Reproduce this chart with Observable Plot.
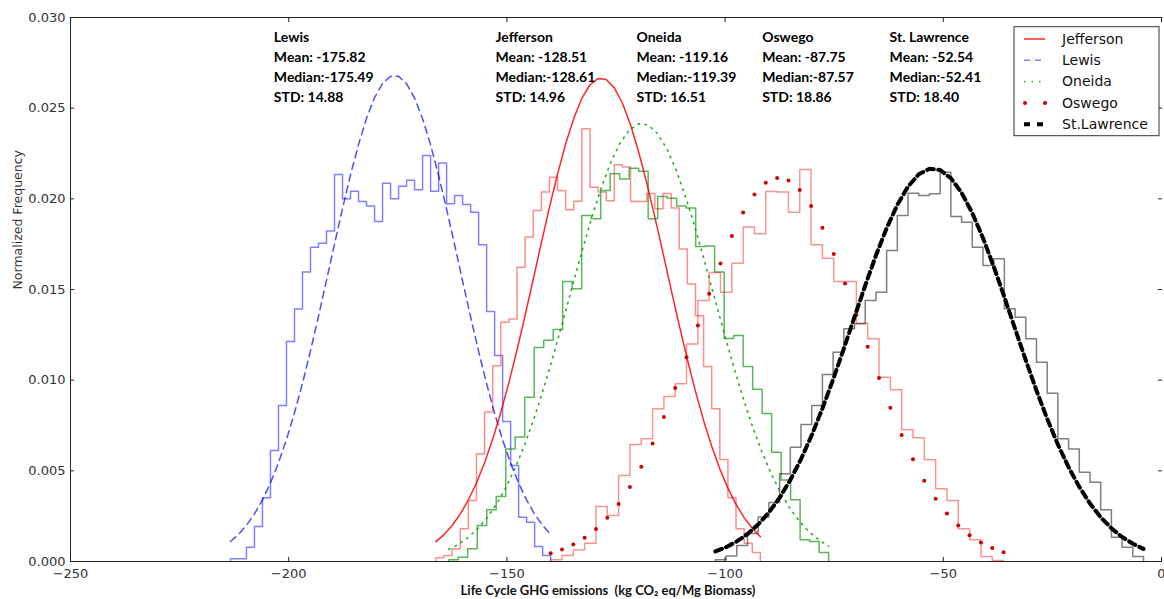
<!DOCTYPE html>
<html><head><meta charset="utf-8">
<script src="https://cdn.jsdelivr.net/npm/d3@7"></script>
<script src="https://cdn.jsdelivr.net/npm/@observablehq/plot@0.6"></script>
<style>
html,body{margin:0;padding:0;background:#fff;}
#chart{width:1164px;height:599px;overflow:hidden;}
</style></head><body><div id="chart"></div>
<script>
// ---------- data ----------
const counties = ["Lewis", "Jefferson", "Oneida", "Oswego", "St. Lawrence"];
const legendNames = ["Jefferson", "Lewis", "Oneida", "Oswego", "St.Lawrence"];
const means = ["-175.82", "-128.51", "-119.16", "-87.75", "-52.54"];
const medians = ["-175.49", "-128.61", "-119.39", "-87.57", "-52.41"];
const stds = ["14.88", "14.96", "16.51", "18.86", "18.40"];
const labelX = [-203.4, -152.6, -120.3, -91.5, -62.3];

const xDomain = [-250, 0];
const yDomain = [0, 0.03];
const xTicks = [-250, -200, -150, -100, -50, 0];
const yTicks = [0, 0.005, 0.010, 0.015, 0.020, 0.025, 0.030];

// histogram ranges (min, max of samples), 40 bins each
const binLo = [-213.35, -166.27, -163.33, -139.97, -102.23];
const binHi = [-139.97, -91.92, -76.28, -36.19, -4.12];

const lewisHist = [0.00015,0.00015,0.00079,0.00193,0.00351,0.00612,0.0086,0.01213,0.01393,0.01596,0.01733,0.01755,0.01822,0.02134,0.02000,0.02042,0.01985,0.01961,0.01875,0.02086,0.02000,0.02070,0.02103,0.02050,0.02239,0.02042,0.02197,0.01973,0.02018,0.01969,0.01926,0.01747,0.01379,0.01136,0.00772,0.00529,0.00244,0.00217,0.00083,0.00033];
const jeffersonHist = [0.0002,0.00033,0.0007,0.0018,0.00336,0.00594,0.00824,0.0108,0.0132,0.01338,0.01623,0.01789,0.01936,0.02037,0.02119,0.02046,0.0194,0.01987,0.02386,0.02064,0.02037,0.0199,0.02188,0.02175,0.01985,0.01985,0.0203,0.01945,0.0203,0.0195,0.01724,0.01531,0.01355,0.01075,0.00842,0.00562,0.00351,0.0018,0.001,0.0005];
const oneidaHist = [0.0001,0.00024,0.0007,0.00199,0.00285,0.00358,0.00621,0.00686,0.00906,0.0118,0.0122,0.0128,0.01544,0.01504,0.01908,0.0189,0.02046,0.02138,0.0211,0.02169,0.02152,0.0189,0.02013,0.02003,0.0196,0.0195,0.01737,0.0174,0.01596,0.0123,0.01246,0.01075,0.0095,0.00816,0.00603,0.0045,0.0034,0.0012,0.0011,0.0005];
const oswegoHist = [0.0001,0.00033,0.00064,0.00101,0.00303,0.00254,0.00474,0.00645,0.00677,0.00842,0.0091,0.0098,0.012,0.01439,0.01594,0.01485,0.01645,0.01844,0.01807,0.0204,0.02037,0.01926,0.02162,0.01747,0.01673,0.01544,0.01544,0.01314,0.01228,0.01016,0.00947,0.00726,0.00682,0.00561,0.00401,0.00336,0.0018,0.0012,0.00028,0.00006];
const stLawrenceHist = [0.0001,0.0003,0.00088,0.00155,0.00246,0.00325,0.00484,0.0063,0.00755,0.0086,0.01031,0.01154,0.01283,0.01311,0.01439,0.01485,0.01715,0.01908,0.02031,0.02018,0.02028,0.02147,0.01903,0.01871,0.01733,0.01632,0.01669,0.01394,0.01347,0.01228,0.01099,0.00928,0.00677,0.00621,0.00492,0.00437,0.00285,0.00134,0.00079,0.00028];

// fitted normal curves, read at the 41 bin edges
const lewisFit = [0.001105,0.001497,0.001997,0.002625,0.003397,0.004332,0.005441,0.006729,0.008197,0.009834,0.011622,0.013526,0.015506,0.017506,0.019468,0.021322,0.023002,0.024439,0.025577,0.026361,0.026762,0.026756,0.026350,0.025559,0.024417,0.022972,0.021290,0.019433,0.017470,0.015468,0.013490,0.011587,0.009803,0.008168,0.006704,0.005419,0.004314,0.003382,0.002612,0.001987,0.001489];
const jeffersonFit = [0.001094,0.001485,0.001986,0.002616,0.003392,0.004331,0.005445,0.006742,0.008220,0.009867,0.011666,0.013579,0.015567,0.017571,0.019530,0.021375,0.023038,0.024448,0.025550,0.026291,0.026641,0.026582,0.026118,0.025270,0.024076,0.022586,0.020864,0.018979,0.017002,0.014995,0.013026,0.011140,0.009382,0.007781,0.006354,0.005109,0.004046,0.003155,0.002422,0.001831,0.001363];
const oneidaFit = [0.000667,0.000941,0.001305,0.001778,0.002382,0.003136,0.004057,0.005159,0.006446,0.007917,0.009555,0.011333,0.013214,0.015140,0.017048,0.018866,0.020519,0.021935,0.023043,0.023790,0.024140,0.024072,0.023593,0.022725,0.021511,0.020015,0.018299,0.016444,0.014523,0.012605,0.010752,0.009015,0.007427,0.006014,0.004785,0.003743,0.002877,0.002173,0.001614,0.001177,0.000844];
const oswegoFit = [0.000453,0.000657,0.000935,0.001306,0.001789,0.002406,0.003175,0.004111,0.005223,0.006510,0.007964,0.009562,0.011264,0.013020,0.014767,0.016436,0.017953,0.019242,0.020236,0.020884,0.021147,0.021014,0.020491,0.019607,0.018410,0.016962,0.015336,0.013606,0.011844,0.010118,0.008481,0.006976,0.005632,0.004460,0.003467,0.002644,0.001979,0.001453,0.001047,0.000741,0.000514];
const stLawrenceFit = [0.000556,0.000791,0.001105,0.001516,0.002042,0.002705,0.003518,0.004496,0.005645,0.006961,0.008434,0.010040,0.011740,0.013486,0.015221,0.016876,0.018380,0.019668,0.020676,0.021353,0.021662,0.021591,0.021142,0.020338,0.019219,0.017842,0.016274,0.014581,0.012835,0.011099,0.009429,0.007870,0.006453,0.005197,0.004113,0.003197,0.002442,0.001832,0.001350,0.000978,0.000696];

// ---------- styles ----------
const histStyle = [
  {stroke: "#0000ff", strokeOpacity: 0.5},
  {stroke: "#ff0000", strokeOpacity: 0.45},
  {stroke: "#009000", strokeOpacity: 0.65},
  {stroke: "#ee0000", strokeOpacity: 0.42},
  {stroke: "#000000", strokeOpacity: 0.5}
];

// ---------- derived tables ----------
const hists = [lewisHist, jeffersonHist, oneidaHist, oswegoHist, stLawrenceHist];
const fits = [lewisFit, jeffersonFit, oneidaFit, oswegoFit, stLawrenceFit];

function stepTable(k) {
  const h = hists[k], lo = binLo[k], hi = binHi[k], n = h.length, w = (hi - lo) / n;
  const pts = [{x: lo, y: 0}];
  h.forEach((v, i) => { pts.push({x: lo + i * w, y: v}); pts.push({x: lo + (i + 1) * w, y: v}); });
  pts.push({x: hi, y: 0});
  return pts;
}
function fitTable(k) {
  const f = fits[k], lo = binLo[k], hi = binHi[k], n = f.length - 1;
  return f.map((v, i) => ({x: lo + i * (hi - lo) / n, y: v}));
}
const annotations = counties.map((c, i) => ({
  x: labelX[i],
  label: `${c}\nMean: ${means[i]}\nMedian:${medians[i]}\nSTD: ${stds[i]}`
}));

const W = 1164, H = 599, mL = 70, mR = 3, mT = 17, mB = 38;
const fmtX = d3.format("d");
const fmtY = d3.format(".3f");

const plot = Plot.plot({
  width: W, height: H,
  marginLeft: mL, marginRight: mR, marginTop: mT, marginBottom: mB,
  style: {background: "white", fontFamily: "DejaVu Sans", overflow: "visible"},
  x: {domain: xDomain},
  y: {domain: yDomain},
  marks: [
    // histograms (step outlines)
    ...hists.map((_, k) => Plot.line(stepTable(k), {x: "x", y: "y", strokeWidth: 1.5, ...histStyle[k]})),
    // fitted curves
    Plot.line(fitTable(0), {x: "x", y: "y", stroke: "#0000ff", strokeOpacity: 0.7, strokeWidth: 1.5, strokeDasharray: "7,5"}),
    Plot.line(fitTable(1), {x: "x", y: "y", stroke: "#ff0000", strokeOpacity: 0.85, strokeWidth: 1.5}),
    Plot.line(fitTable(2), {x: "x", y: "y", stroke: "#00a000", strokeOpacity: 0.85, strokeWidth: 1.6, strokeDasharray: "1.5,5.5"}),
    Plot.dot(fitTable(3), {x: "x", y: "y", r: 2, fill: "#cc0000", stroke: null}),
    Plot.line(fitTable(4), {x: "x", y: "y", stroke: "#000000", strokeWidth: 4, strokeDasharray: "7,4.5"}),
    // spines
    Plot.ruleX([xDomain[0]], {stroke: "#222", strokeWidth: 1}),
    Plot.ruleY(yDomain, {stroke: "#222", strokeWidth: 1}),
    // ticks (inward)
    Plot.axisX(xTicks, {anchor: "bottom", tickSize: -4, tickFormat: () => "", label: null, stroke: "#222"}),
    Plot.axisX(xTicks, {anchor: "top", tickSize: -4, tickFormat: () => "", label: null, stroke: "#222"}),
    Plot.axisY(yTicks, {anchor: "left", tickSize: -4, tickFormat: () => "", label: null, stroke: "#222"}),
    Plot.axisY(yTicks, {anchor: "right", tickSize: -4, tickFormat: () => "", label: null, stroke: "#222"}),
    // tick labels
    Plot.axisX(xTicks, {anchor: "bottom", tickSize: 0, tickPadding: 7, tickFormat: fmtX, label: null, fontSize: 13, fill: "#333"}),
    Plot.axisY(yTicks, {anchor: "left", tickSize: 0, tickPadding: 5, tickFormat: fmtY, label: null, fontSize: 13, fill: "#333"}),
    // axis titles
    Plot.text(["Normalized Frequency"], {text: d => d, frameAnchor: "left", dx: -53, rotate: -90, fontSize: 12.5, fill: "#333", fontFamily: "DejaVu Sans"}),
    Plot.text(["Life Cycle GHG emissions \u00a0(kg CO\u2082 eq/Mg Biomass)"], {text: d => d, frameAnchor: "bottom", dx: -8, dy: 29, lineAnchor: "middle", fontSize: 13, fontWeight: "bold", fill: "#111", fontFamily: "Lato"}),
    // statistics annotations
    Plot.text(annotations, {x: "x", text: "label", frameAnchor: "top", dy: 10, textAnchor: "start", lineAnchor: "top", lineHeight: 1.43, fontSize: 14, fontWeight: "bold", fontFamily: "Lato", fill: "black"})
  ]
});
document.getElementById("chart").appendChild(plot);

// ---------- legend (inside plot, upper right) ----------
const legendStyle = {
  "Jefferson": {type: "line", stroke: "#ff0000", width: 1.5, dash: null, opacity: 0.85},
  "Lewis": {type: "line", stroke: "#0000ff", width: 1.5, dash: "6,5", opacity: 0.5},
  "Oneida": {type: "line", stroke: "#00a000", width: 1.6, dash: "1.5,6", opacity: 0.8},
  "Oswego": {type: "dots", fill: "#cc0000"},
  "St.Lawrence": {type: "line", stroke: "#000", width: 4, dash: "6,7", opacity: 1}
};
const svg = d3.select(plot);
const boxW = 145, boxH = 109;
const lg = svg.append("g").attr("transform", `translate(${W - mR - boxW - 2},${mT + 9.7})`);
lg.append("rect").attr("width", boxW).attr("height", boxH).attr("fill", "white").attr("stroke", "#333").attr("stroke-width", 1);
legendNames.forEach((name, i) => {
  const y = 12.3 + i * 21.3;
  const s = legendStyle[name];
  if (s.type === "line") {
    lg.append("line").attr("x1", 10).attr("x2", 31).attr("y1", y).attr("y2", y)
      .attr("stroke", s.stroke).attr("stroke-width", s.width).attr("stroke-opacity", s.opacity)
      .attr("stroke-dasharray", s.dash);
  } else {
    [11, 31].forEach(cx => lg.append("circle").attr("cx", cx).attr("cy", y).attr("r", 2).attr("fill", s.fill));
  }
  lg.append("text").attr("x", 48).attr("y", y).attr("dy", "0.35em").attr("text-anchor", "start")
    .attr("font-family", "DejaVu Sans").attr("font-size", 14).attr("fill", "#111").text(name);
});
</script></body></html>
